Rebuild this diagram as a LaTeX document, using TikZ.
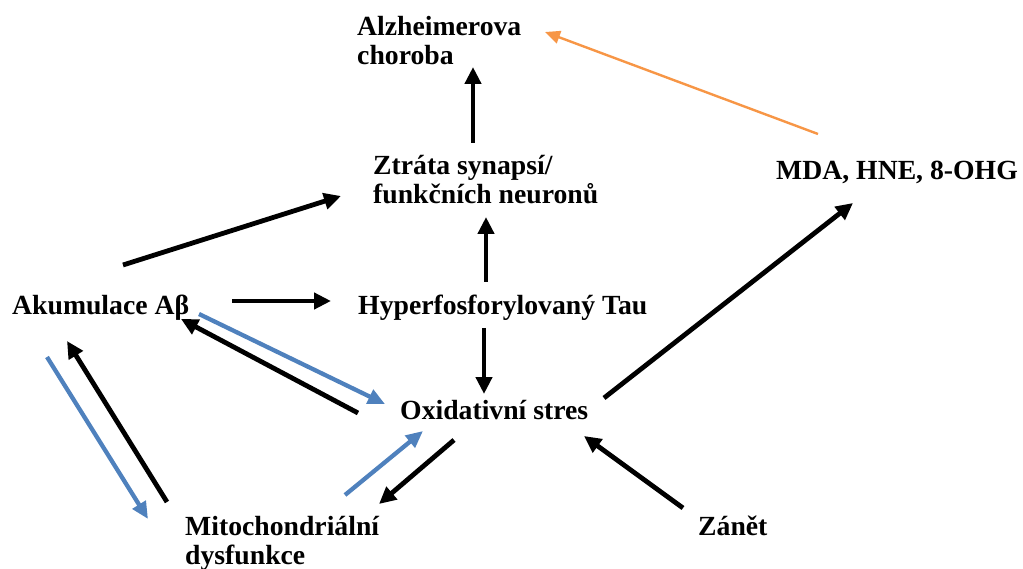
\documentclass[tikz,border=0pt]{standalone}
\usepackage{fontspec}
\setmainfont{Liberation Serif}
\usetikzlibrary{arrows.meta}
\definecolor{arrblue}{RGB}{79,129,189}
\definecolor{arrorange}{RGB}{247,150,70}
\tikzset{
  lbl/.style={font=\fontsize{27.7}{29}\selectfont\bfseries, inner sep=0pt, align=left},
  blk/.style={draw=black, line width=4.8pt, -{Triangle[length=17pt,width=16pt]}},
  blu/.style={draw=arrblue, line width=4.3pt, -{Triangle[length=17pt,width=15pt]}},
  org/.style={draw=arrorange, line width=2.4pt, -{Triangle[length=15pt,width=13pt]}}
}
\begin{document}
\begin{tikzpicture}[x=1pt,y=-1pt]
\useasboundingbox (0,0) rectangle (1023,569);
% nodes
\node[lbl, anchor=north west] (ad) at (357,16) {Alzheimerova\\choroba};
\node[lbl, anchor=north west] (zt) at (373,155) {Ztráta synapsí/\\funkčních neuronů};
\node[lbl, anchor=base west] (mda) at (776,180) {MDA, HNE, 8-OHG};
\node[lbl, anchor=base west] (ab) at (12,315) {Akumulace Aβ};
\node[lbl, anchor=base west] (tau) at (358,315) {Hyperfosforylovaný Tau};
\node[lbl, anchor=base west] (ox) at (400,419) {Oxidativní stres};
\node[lbl, anchor=north west] (mi) at (185,516) {Mitochondriální\\dysfunkce};
\node[lbl, anchor=base west] (za) at (698,535) {Zánět};
% connector end points
\coordinate (zt-ad-s) at (473,143);  \coordinate (zt-ad-e) at (473,67);
\coordinate (mda-ad-s) at (818,134); \coordinate (mda-ad-e) at (545,32);
\coordinate (ab-zt-s) at (123,265);  \coordinate (ab-zt-e) at (341,196);
\coordinate (ab-tau-s) at (232,301); \coordinate (ab-tau-e) at (331,301);
\coordinate (tau-zt-s) at (486,282); \coordinate (tau-zt-e) at (486,217);
\coordinate (tau-ox-s) at (484,328); \coordinate (tau-ox-e) at (484,394);
\coordinate (ox-mda-s) at (604,398); \coordinate (ox-mda-e) at (853,203);
\coordinate (ab-ox-s) at (199,314);  \coordinate (ab-ox-e) at (385,404);
\coordinate (ox-ab-s) at (358,413);  \coordinate (ox-ab-e) at (181,319);
\coordinate (ab-mi-s) at (47,357);   \coordinate (ab-mi-e) at (148,519);
\coordinate (mi-ab-s) at (167,502);  \coordinate (mi-ab-e) at (67,341);
\coordinate (mi-ox-s) at (345,495);  \coordinate (mi-ox-e) at (423,431);
\coordinate (ox-mi-s) at (454,440);  \coordinate (ox-mi-e) at (379,504);
\coordinate (za-ox-s) at (683,508);  \coordinate (za-ox-e) at (584,436);
% connectors
\draw[blk] (zt-ad-s) -- (zt-ad-e);
\draw[org] (mda-ad-s) -- (mda-ad-e);
\draw[blk] (ab-zt-s) -- (ab-zt-e);
\draw[blk] (ab-tau-s) -- (ab-tau-e);
\draw[blk] (tau-zt-s) -- (tau-zt-e);
\draw[blk] (tau-ox-s) -- (tau-ox-e);
\draw[blk] (ox-mda-s) -- (ox-mda-e);
\draw[blu] (ab-ox-s) -- (ab-ox-e);
\draw[blk] (ox-ab-s) -- (ox-ab-e);
\draw[blu] (ab-mi-s) -- (ab-mi-e);
\draw[blk] (mi-ab-s) -- (mi-ab-e);
\draw[blu] (mi-ox-s) -- (mi-ox-e);
\draw[blk] (ox-mi-s) -- (ox-mi-e);
\draw[blk] (za-ox-s) -- (za-ox-e);
\end{tikzpicture}
\end{document}
